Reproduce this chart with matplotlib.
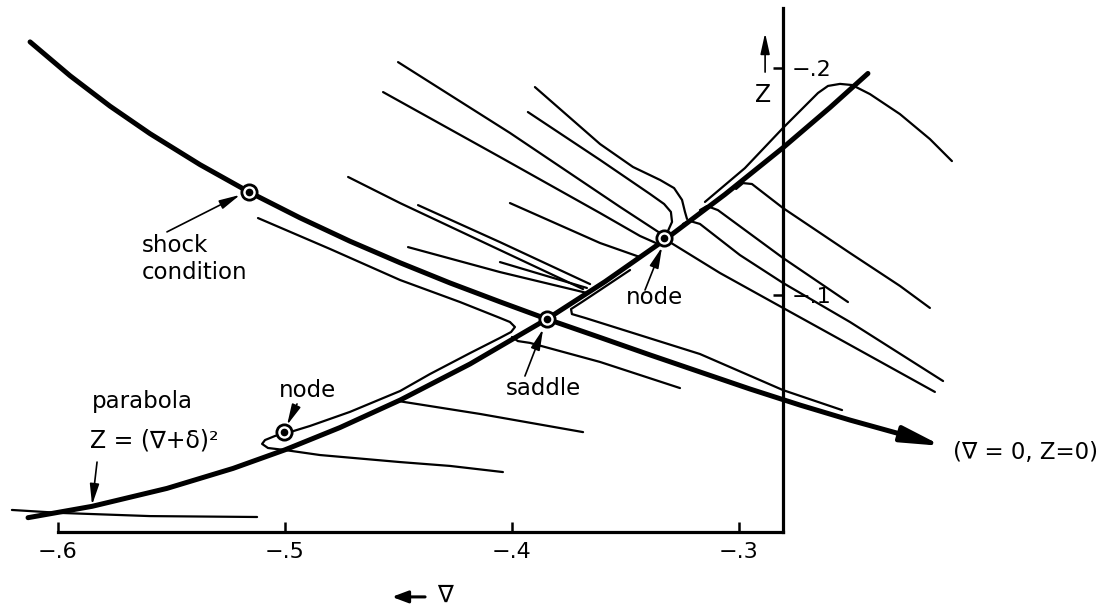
import matplotlib.pyplot as plt

plt.rcParams['font.family'] = ['DejaVu Sans']

# thick separatrix: through the shock-condition point and the saddle,
# running off towards (V = 0, Z = 0)
sep_v = [-0.6123, -0.5947, -0.5771, -0.5595, -0.5374, -0.5159, -0.4934, -0.4714,
         -0.4493, -0.4273, -0.4053, -0.3846, -0.3612, -0.3392, -0.3172, -0.2952,
         -0.2731, -0.2511, -0.2291]
sep_z = [-0.2115, -0.1966, -0.1832, -0.1711, -0.1574, -0.1454, -0.1340, -0.1237,
         -0.1142, -0.1053, -0.0970, -0.0894, -0.0813, -0.0736, -0.0661, -0.0586,
         -0.0515, -0.0449, -0.0388]
sep_tip = (-0.2106, -0.0335)

# parabola Z = (V + delta)^2
par_v = [-0.6132, -0.5850, -0.5520, -0.5229, -0.5000, -0.4758, -0.4493, -0.4185,
         -0.3846, -0.3590, -0.3330, -0.3062, -0.2806, -0.2599, -0.2432]
par_z = [-0.0019, -0.0069, -0.0148, -0.0236, -0.0318, -0.0416, -0.0537, -0.0696,
         -0.0894, -0.1059, -0.1241, -0.1443, -0.1649, -0.1826, -0.1976]

# singular points
shock_pt = (-0.5159, -0.1454)
saddle_pt = (-0.3846, -0.0894)
node_hi = (-0.3330, -0.1251)
node_lo = (-0.5004, -0.0396)

# integral curves
# from below the shock point, round the saddle, into the lower node and out again
c1_v = [-0.5119, -0.4802, -0.4493, -0.4229, -0.4053, -0.4009, -0.3987, -0.4004,
        -0.4053, -0.4185, -0.4361, -0.4493, -0.4714, -0.4890, -0.4978, -0.5044,
        -0.5088, -0.5101, -0.5075, -0.5000, -0.4846, -0.4493, -0.4273, -0.4040]
c1_z = [-0.1339, -0.1203, -0.1066, -0.0969, -0.0899, -0.0881, -0.0859, -0.0837,
        -0.0811, -0.0744, -0.0652, -0.0577, -0.0485, -0.0423, -0.0396, -0.0379,
        -0.0361, -0.0344, -0.0326, -0.0317, -0.0295, -0.0264, -0.0247, -0.0220]
# short branch leaving the saddle downwards
c2_v = [-0.4000, -0.3974, -0.3921, -0.3612, -0.3260]
c2_z = [-0.0815, -0.0797, -0.0789, -0.0705, -0.0590]
c3_v = [-0.4502, -0.4141, -0.3687]
c3_z = [-0.0533, -0.0476, -0.0396]
# along the bottom, through the foot of the parabola
c4_v = [-0.6203, -0.5991, -0.5595, -0.5123]
c4_z = [-0.0053, -0.0040, -0.0026, -0.0022]
# arch over the top end of the parabola
c5_v = [-0.3150, -0.2974, -0.2806, -0.2709, -0.2652, -0.2608, -0.2555, -0.2502,
        -0.2423, -0.2291, -0.2159, -0.2062]
c5_z = [-0.1410, -0.1559, -0.1736, -0.1833, -0.1890, -0.1921, -0.1930, -0.1925,
        -0.1885, -0.1797, -0.1687, -0.1590]
c6_v = [-0.3013, -0.2982, -0.2943, -0.2806, -0.2511, -0.2291, -0.2159]
c6_z = [-0.1467, -0.1493, -0.1489, -0.1383, -0.1185, -0.1040, -0.0943]
c7_v = [-0.3172, -0.3141, -0.3093, -0.2806, -0.2520]
c7_z = [-0.1374, -0.1392, -0.1374, -0.1163, -0.0969]
c8_v = [-0.3247, -0.3216, -0.3172, -0.2996, -0.2806, -0.2511, -0.2101]
c8_z = [-0.1313, -0.1326, -0.1313, -0.1176, -0.1053, -0.0881, -0.0621]
c9_v = [-0.3313, -0.3084, -0.2806, -0.2511, -0.2137]
c9_z = [-0.1238, -0.1097, -0.0943, -0.0780, -0.0573]
# down the parabola to the saddle, then out along the separatrix
c10_v = [-0.3480, -0.3612, -0.3692, -0.3740, -0.3736, -0.3678, -0.3172, -0.2806, -0.2546]
c10_z = [-0.1110, -0.1022, -0.0969, -0.0938, -0.0916, -0.0899, -0.0740, -0.0581, -0.0493]
# curves coming in from the upper left towards the upper node
c11_v = [-0.4502, -0.4009, -0.3524, -0.3348]
c11_z = [-0.2026, -0.1714, -0.1388, -0.1273]
c12_v = [-0.4568, -0.4053, -0.3612, -0.3436, -0.3366]
c12_z = [-0.1894, -0.1608, -0.1361, -0.1260, -0.1229]
c13_v = [-0.3930, -0.3612, -0.3392, -0.3330, -0.3300, -0.3295, -0.3313]
c13_z = [-0.1806, -0.1595, -0.1445, -0.1401, -0.1366, -0.1322, -0.1282]
c14_v = [-0.3899, -0.3612, -0.3467, -0.3348, -0.3286, -0.3251, -0.3238, -0.3229]
c14_z = [-0.1916, -0.1665, -0.1564, -0.1507, -0.1471, -0.1419, -0.1366, -0.1335]
c15_v = [-0.4009, -0.3612, -0.3436]
c15_z = [-0.1405, -0.1229, -0.1167]
c16_v = [-0.4414, -0.4053, -0.3656]
c16_z = [-0.1396, -0.1233, -0.1048]
c17_v = [-0.4722, -0.4493, -0.4053, -0.3687]
c17_z = [-0.1520, -0.1405, -0.1198, -0.1026]
c18_v = [-0.4458, -0.4053, -0.3670]
c18_z = [-0.1211, -0.1101, -0.1009]
c19_v = [-0.4053, -0.3670]
c19_z = [-0.1145, -0.1031]

x_ticks = [-0.6, -0.5, -0.4, -0.3]
x_labels = ['−.6', '−.5', '−.4', '−.3']
z_ticks = [-0.2, -0.1]
z_labels = ['−.2', '−.1']
v_axis = -0.2806
z_axis = 0.0044

fig = plt.figure(figsize=(11.17, 6.09), dpi=100)
ax = fig.add_axes([0, 0, 1, 1])
ax.set_xlim(-0.62555, -0.13348)
ax.set_ylim(0.03833, -0.22996)

thin = [(c1_v, c1_z), (c2_v, c2_z), (c3_v, c3_z), (c4_v, c4_z), (c5_v, c5_z),
        (c6_v, c6_z), (c7_v, c7_z), (c8_v, c8_z), (c9_v, c9_z), (c10_v, c10_z),
        (c11_v, c11_z), (c12_v, c12_z), (c13_v, c13_z), (c14_v, c14_z),
        (c15_v, c15_z), (c16_v, c16_z), (c17_v, c17_z), (c18_v, c18_z),
        (c19_v, c19_z)]
for v, z in thin:
    ax.plot(v, z, color='black', lw=1.6, solid_capstyle='round', solid_joinstyle='round')

ax.plot(par_v, par_z, color='black', lw=3.6, solid_capstyle='round', solid_joinstyle='round')
ax.plot(sep_v, sep_z, color='black', lw=3.6, solid_capstyle='round', solid_joinstyle='round')
ax.annotate('', xy=sep_tip, xytext=(sep_v[-1], sep_z[-1]),
            arrowprops=dict(arrowstyle='-|>,head_length=1.5,head_width=0.3',
                            color='black', lw=3.2, mutation_scale=16,
                            shrinkA=0, shrinkB=0))

# singular points: open circle with a dot
for p in [shock_pt, saddle_pt, node_hi, node_lo]:
    ax.plot(*p, marker='o', ms=11, mfc='white', mec='black', mew=2.0, zorder=5)
    ax.plot(*p, marker='o', ms=4.5, color='black', zorder=6)

# frame: bottom V axis and vertical Z axis
for s in ['top', 'left']:
    ax.spines[s].set_visible(False)
ax.spines['bottom'].set_position(('data', z_axis))
ax.spines['bottom'].set_bounds(x_ticks[0], v_axis)
ax.spines['right'].set_position(('data', v_axis))
ax.spines['right'].set_bounds(-0.2264, z_axis)
for s in ['bottom', 'right']:
    ax.spines[s].set_linewidth(2.3)
ax.xaxis.set_ticks_position('bottom')
ax.yaxis.set_ticks_position('right')
ax.set_xticks(x_ticks, x_labels)
ax.set_yticks(z_ticks, z_labels)
ax.tick_params(axis='x', direction='in', length=7, width=1.8, pad=7, labelsize=16)
ax.tick_params(axis='y', direction='in', length=7, width=1.8, pad=6, labelsize=16)
for lbl in ax.get_yticklabels():
    lbl.set_bbox(dict(facecolor='white', edgecolor='none', pad=0.5))

arrow_thin = dict(arrowstyle='-|>,head_length=0.9,head_width=0.2', color='black',
                  lw=1.2, mutation_scale=14, shrinkA=0, shrinkB=0)

ax.text(-0.5630, -0.1269, 'shock\ncondition', ha='left', va='top', fontsize=16.5,
        linespacing=1.25)
ax.annotate('', xy=(-0.5198, -0.1441), xytext=(-0.5520, -0.1278), arrowprops=arrow_thin)

ax.text(-0.3374, -0.0987, 'node', ha='center', va='center', fontsize=16.5)
ax.annotate('', xy=(-0.3339, -0.1211), xytext=(-0.3414, -0.1022), arrowprops=arrow_thin)

ax.text(-0.3863, -0.0590, 'saddle', ha='center', va='center', fontsize=16.5)
ax.annotate('', xy=(-0.3863, -0.0850), xytext=(-0.3943, -0.0643), arrowprops=arrow_thin)

ax.text(-0.4899, -0.0581, 'node', ha='center', va='center', fontsize=16.5)
ax.annotate('', xy=(-0.4991, -0.0427), xytext=(-0.4947, -0.0520), arrowprops=arrow_thin)

ax.text(-0.5630, -0.0529, 'parabola', ha='center', va='center', fontsize=16.5)
ax.text(-0.5859, -0.0357, 'Z = (∇+δ)²', ha='left', va='center', fontsize=17)
ax.annotate('', xy=(-0.5850, -0.0075), xytext=(-0.5828, -0.0264), arrowprops=arrow_thin)

ax.text(-0.2057, -0.0304, '(∇ = 0, Z=0)', ha='left', va='center', fontsize=16.5)

# axis names with their arrows
ax.text(-0.2894, -0.1881, 'Z', ha='center', va='center', fontsize=17)
ax.annotate('', xy=(-0.2885, -0.2154), xytext=(-0.2885, -0.1982), arrowprops=arrow_thin)
ax.text(-0.4295, 0.0322, '∇', ha='center', va='center', fontsize=17)
ax.annotate('', xy=(-0.4529, 0.0330), xytext=(-0.4383, 0.0330),
            arrowprops=dict(arrowstyle='-|>,head_length=0.8,head_width=0.3',
                            color='black', lw=2.2, mutation_scale=12,
                            shrinkA=0, shrinkB=0))

fig.savefig('out.png', dpi=100, facecolor='white')
